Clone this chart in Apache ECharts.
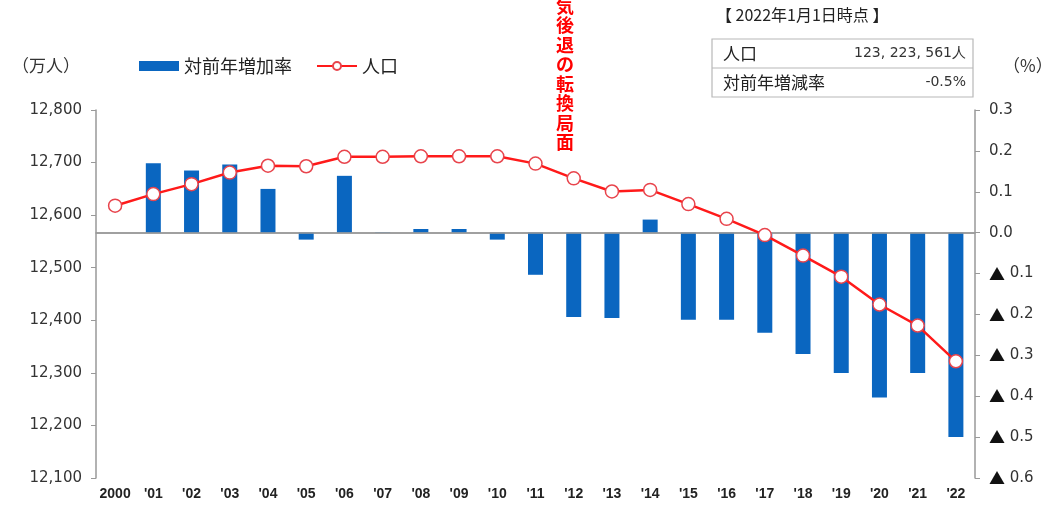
<!DOCTYPE html>
<html>
<head>
<meta charset="utf-8">
<script src="https://cdn.jsdelivr.net/npm/echarts@6/dist/echarts.min.js"></script>
<style>
  html, body { margin: 0; padding: 0; background: #fff; }
  #chart { width: 1062px; height: 508px; }
</style>
</head>
<body>
<div id="chart"></div>
<script>
// Years on the horizontal axis
const years = ['2000', "'01", "'02", "'03", "'04", "'05", "'06", "'07", "'08", "'09", "'10", "'11",
               "'12", "'13", "'14", "'15", "'16", "'17", "'18", "'19", "'20", "'21", "'22"];

// Population (10,000 persons), left axis
const population = [12618, 12640, 12659, 12681, 12694, 12693, 12711, 12711, 12712, 12712, 12712, 12698,
                    12670, 12645, 12648, 12621, 12593, 12562, 12523, 12483, 12430, 12390, 12322];

// Year-on-year change (%), right axis
const changeRate = [null, 0.170, 0.152, 0.167, 0.107, -0.017, 0.139, 0.001, 0.009, 0.009, -0.017, -0.103,
                    -0.206, -0.209, 0.032, -0.213, -0.213, -0.245, -0.297, -0.343, -0.403, -0.343, -0.50];

// Summary box rows
const summaryTitle = '【 2022年1月1日時点 】';
const summaryRows = [['人口', '123, 223, 561人'], ['対前年増減率', '-0.5%']];

const seriesNames = ['対前年増加率', '人口'];
const turningNote = ['気', '後', '退', 'の', '転', '換', '局', '面'];

const FONT = '"Noto Sans CJK JP", "Noto Sans", sans-serif';
const NUMFONT = '"DejaVu Sans", "Noto Sans", sans-serif';
const chart = echarts.init(document.getElementById('chart'));

const tableLeft = 712, tableRight = 973, rowTop = 39, rowH = 29;
const graphics = [
  { type: 'text', left: 716, top: 7, style: { text: summaryTitle, font: '16px ' + FONT, fill: '#222' } },
  { type: 'rect', shape: { x: tableLeft, y: rowTop, width: tableRight - tableLeft, height: rowH * 2 },
    style: { fill: '#fff', stroke: '#b8b8b8', lineWidth: 1.2 } },
  { type: 'line', shape: { x1: tableLeft, y1: rowTop + rowH, x2: tableRight, y2: rowTop + rowH },
    style: { stroke: '#b8b8b8', lineWidth: 1.2 } },
  { type: 'text', left: 12, top: 57, style: { text: '（万人）', font: '17px ' + FONT, fill: '#333' } },
  { type: 'text', left: 1003, top: 57, style: { text: '（%）', font: '17px ' + FONT, fill: '#333' } },
  { type: 'text', left: 556, top: -4,
    style: { text: turningNote.join('\n'), font: 'bold 18px ' + FONT, fill: '#ff0000',
             lineHeight: 19.5, align: 'left' } }
];
summaryRows.forEach((r, i) => {
  const cy = rowTop + rowH * i + rowH / 2;
  graphics.push({ type: 'text', x: 723, y: cy,
    style: { text: r[0], font: '17px ' + FONT, fill: '#222', verticalAlign: 'middle' } });
  graphics.push({ type: 'text', x: 966, y: cy,
    style: { text: r[1], font: '14px ' + NUMFONT, fill: '#333', align: 'right', verticalAlign: 'middle' } });
});

chart.setOption({
  animation: false,
  backgroundColor: '#fff',
  textStyle: { fontFamily: FONT },
  grid: { left: 96, right: 87, top: 110, bottom: 30 },
  legend: {
    left: 134, top: 52,
    itemWidth: 40, itemHeight: 10, itemGap: 24,
    textStyle: { fontSize: 18, color: '#222', fontFamily: FONT },
    data: [
      { name: seriesNames[0], icon: 'rect' },
      { name: seriesNames[1] }
    ]
  },
  xAxis: {
    type: 'category',
    data: years,
    boundaryGap: true,
    axisLine: { lineStyle: { color: '#999', width: 1.5 } },
    axisTick: { inside: true, length: 4, interval: 0, lineStyle: { color: '#999' } },
    axisLabel: { interval: 0, fontSize: 14, color: '#222', margin: 9, fontWeight: 'bold',
                 fontFamily: '"Liberation Sans", sans-serif' }
  },
  yAxis: [
    {
      type: 'value', min: 12100, max: 12800, interval: 100,
      splitLine: { show: false },
      axisLine: { show: true, lineStyle: { color: '#999', width: 1.5 } },
      axisTick: { show: true, length: 5, lineStyle: { color: '#999' } },
      axisLabel: { fontSize: 15, color: '#333', margin: 14, fontFamily: NUMFONT,
                   formatter: v => v.toLocaleString('en-US') }
    },
    {
      type: 'value', min: -0.6, max: 0.3, interval: 0.1,
      splitLine: { show: false },
      axisLine: { show: true, lineStyle: { color: '#999', width: 1.5 } },
      axisTick: { show: true, length: 5, lineStyle: { color: '#999' } },
      axisLabel: { fontSize: 15, color: '#333', margin: 14, fontFamily: NUMFONT,
                   formatter: v => {
                     const r = Math.round(v * 10) / 10;
                     return r < 0 ? '{tri|▲} ' + Math.abs(r).toFixed(1) : r.toFixed(1);
                   },
                   rich: { tri: { fontFamily: FONT, fontSize: 16, color: '#111' } } }
    }
  ],
  series: [
    {
      name: seriesNames[0],
      type: 'bar',
      yAxisIndex: 1,
      data: changeRate,
      barWidth: 15,
      itemStyle: { color: '#0a66c0' },
      markLine: {
        silent: true, symbol: 'none', label: { show: false },
        lineStyle: { color: '#9a9a9a', width: 1.5, type: 'solid' },
        data: [{ yAxis: 0 }]
      }
    },
    {
      name: seriesNames[1],
      type: 'line',
      yAxisIndex: 0,
      data: population,
      symbol: 'circle',
      symbolSize: 13,
      lineStyle: { color: '#ff1a1a', width: 2.5 },
      itemStyle: { color: '#fff', borderColor: '#e8444c', borderWidth: 1.5 },
      z: 5
    }
  ],
  graphic: graphics
});
</script>
</body>
</html>
